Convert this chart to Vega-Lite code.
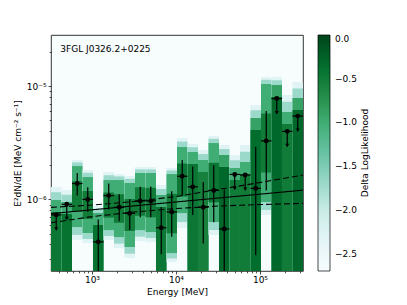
{
  "$schema": "https://vega.github.io/schema/vega-lite/v6.json",
  "autosize": "none",
  "width": 252,
  "height": 236,
  "padding": {"left": 51, "top": 35, "right": 104, "bottom": 34},
  "background": "#ffffff",
  "config": {
    "view": {"stroke": "#000", "strokeWidth": 0.8, "fill": "#f7fcfd"},
    "axis": {"domain": false, "grid": false, "labelFont": "DejaVu Sans", "labelFontSize": 9, "labelColor": "#000", "titleFont": "DejaVu Sans", "titleFontSize": 9, "titleFontWeight": "normal", "titleColor": "#000", "tickColor": "#000", "tickWidth": 0.7},
    "legend": {"labelFont": "DejaVu Sans", "labelFontSize": 9, "labelColor": "#000", "titleFont": "DejaVu Sans", "titleFontSize": 9, "titleFontWeight": "normal", "titleColor": "#000"}
  },
  "datasets": {
    "heat": [
      {"e1":325.6,"e2":434.0,"lo":1e-7,"hi":1.285e-6,"v":-2.3},{"e1":325.6,"e2":434.0,"lo":1e-7,"hi":1.156e-6,"v":-1.7},{"e1":325.6,"e2":434.0,"lo":1e-7,"hi":9.86e-7,"v":-1.0},{"e1":325.6,"e2":434.0,"lo":1e-7,"hi":7.73e-7,"v":-0.45},
      {"e1":434.0,"e2":578.8,"lo":1e-7,"hi":1.209e-6,"v":-2.3},{"e1":434.0,"e2":578.8,"lo":1e-7,"hi":1.096e-6,"v":-1.7},{"e1":434.0,"e2":578.8,"lo":1e-7,"hi":9.47e-7,"v":-1.0},{"e1":434.0,"e2":578.8,"lo":1e-7,"hi":7.42e-7,"v":-0.4},
      {"e1":578.8,"e2":771.8,"lo":4.38e-7,"hi":2.224e-6,"v":-2.3},{"e1":578.8,"e2":771.8,"lo":4.86e-7,"hi":2.118e-6,"v":-1.7},{"e1":578.8,"e2":771.8,"lo":5.70e-7,"hi":1.968e-6,"v":-1.0},{"e1":578.8,"e2":771.8,"lo":7.77e-7,"hi":1.444e-6,"v":-0.5},
      {"e1":771.8,"e2":1029.2,"lo":4.12e-7,"hi":1.815e-6,"v":-2.3},{"e1":771.8,"e2":1029.2,"lo":4.47e-7,"hi":1.714e-6,"v":-1.7},{"e1":771.8,"e2":1029.2,"lo":5.05e-7,"hi":1.574e-6,"v":-1.0},{"e1":771.8,"e2":1029.2,"lo":6.71e-7,"hi":1.184e-6,"v":-0.5},
      {"e1":1029.2,"e2":1372.5,"lo":1e-7,"hi":8.73e-7,"v":-2.3},{"e1":1029.2,"e2":1372.5,"lo":1e-7,"hi":8.25e-7,"v":-1.7},{"e1":1029.2,"e2":1372.5,"lo":1e-7,"hi":7.57e-7,"v":-1.0},{"e1":1029.2,"e2":1372.5,"lo":1e-7,"hi":5.94e-7,"v":-0.4},
      {"e1":1372.5,"e2":1830.2,"lo":4.38e-7,"hi":1.742e-6,"v":-2.3},{"e1":1372.5,"e2":1830.2,"lo":4.75e-7,"hi":1.633e-6,"v":-1.7},{"e1":1372.5,"e2":1830.2,"lo":5.36e-7,"hi":1.481e-6,"v":-1.0},{"e1":1372.5,"e2":1830.2,"lo":6.91e-7,"hi":1.149e-6,"v":-0.5},
      {"e1":1830.2,"e2":2440.6,"lo":3.72e-7,"hi":1.673e-6,"v":-2.3},{"e1":1830.2,"e2":2440.6,"lo":4.07e-7,"hi":1.594e-6,"v":-1.7},{"e1":1830.2,"e2":2440.6,"lo":4.65e-7,"hi":1.481e-6,"v":-1.0},{"e1":1830.2,"e2":2440.6,"lo":6.22e-7,"hi":1.109e-6,"v":-0.5},
      {"e1":2440.6,"e2":3254.6,"lo":3.04e-7,"hi":1.607e-6,"v":-2.3},{"e1":2440.6,"e2":3254.6,"lo":3.32e-7,"hi":1.518e-6,"v":-1.7},{"e1":2440.6,"e2":3254.6,"lo":3.80e-7,"hi":1.394e-6,"v":-1.0},{"e1":2440.6,"e2":3254.6,"lo":5.26e-7,"hi":1.007e-6,"v":-0.5},
      {"e1":3254.6,"e2":4340.1,"lo":4.29e-7,"hi":1.929e-6,"v":-2.3},{"e1":3254.6,"e2":4340.1,"lo":4.69e-7,"hi":1.837e-6,"v":-1.7},{"e1":3254.6,"e2":4340.1,"lo":5.36e-7,"hi":1.708e-6,"v":-1.0},{"e1":3254.6,"e2":4340.1,"lo":7.17e-7,"hi":1.278e-6,"v":-0.5},
      {"e1":4340.1,"e2":5787.6,"lo":4.20e-7,"hi":1.929e-6,"v":-2.3},{"e1":4340.1,"e2":5787.6,"lo":4.56e-7,"hi":1.837e-6,"v":-1.7},{"e1":4340.1,"e2":5787.6,"lo":5.15e-7,"hi":1.708e-6,"v":-1.0},{"e1":4340.1,"e2":5787.6,"lo":6.95e-7,"hi":1.265e-6,"v":-0.5},
      {"e1":5787.6,"e2":7717.9,"lo":1e-7,"hi":1.338e-6,"v":-2.3},{"e1":5787.6,"e2":7717.9,"lo":1e-7,"hi":1.234e-6,"v":-1.7},{"e1":5787.6,"e2":7717.9,"lo":1e-7,"hi":1.092e-6,"v":-1.0},{"e1":5787.6,"e2":7717.9,"lo":1e-7,"hi":8.56e-7,"v":-0.45},
      {"e1":7717.9,"e2":10292,"lo":2.80e-7,"hi":1.890e-6,"v":-2.3},{"e1":7717.9,"e2":10292,"lo":3.01e-7,"hi":1.800e-6,"v":-1.7},{"e1":7717.9,"e2":10292,"lo":3.36e-7,"hi":1.673e-6,"v":-1.0},{"e1":7717.9,"e2":10292,"lo":5.02e-7,"hi":1.120e-6,"v":-0.5},
      {"e1":10292,"e2":13725,"lo":5.58e-7,"hi":3.476e-6,"v":-2.3},{"e1":10292,"e2":13725,"lo":6.31e-7,"hi":3.231e-6,"v":-1.7},{"e1":10292,"e2":13725,"lo":7.57e-7,"hi":2.896e-6,"v":-1.0},{"e1":10292,"e2":13725,"lo":1.059e-6,"hi":2.071e-6,"v":-0.45},
      {"e1":13725,"e2":18302,"lo":1e-7,"hi":3.077e-6,"v":-2.3},{"e1":13725,"e2":18302,"lo":1e-7,"hi":2.884e-6,"v":-1.7},{"e1":13725,"e2":18302,"lo":1e-7,"hi":2.616e-6,"v":-1.0},{"e1":13725,"e2":18302,"lo":1e-7,"hi":2.050e-6,"v":-0.45},
      {"e1":18302,"e2":24406,"lo":1e-7,"hi":2.725e-6,"v":-2.3},{"e1":18302,"e2":24406,"lo":1e-7,"hi":2.512e-6,"v":-1.7},{"e1":18302,"e2":24406,"lo":1e-7,"hi":2.224e-6,"v":-1.0},{"e1":18302,"e2":24406,"lo":1e-7,"hi":1.742e-6,"v":-0.55},
      {"e1":24406,"e2":32546,"lo":4.84e-7,"hi":3.622e-6,"v":-2.3},{"e1":24406,"e2":32546,"lo":5.38e-7,"hi":3.421e-6,"v":-1.7},{"e1":24406,"e2":32546,"lo":6.31e-7,"hi":3.141e-6,"v":-1.0},{"e1":24406,"e2":32546,"lo":9.42e-7,"hi":2.103e-6,"v":-0.45},
      {"e1":32546,"e2":43401,"lo":1e-7,"hi":3.016e-6,"v":-2.3},{"e1":32546,"e2":43401,"lo":1e-7,"hi":2.781e-6,"v":-1.7},{"e1":32546,"e2":43401,"lo":1e-7,"hi":2.461e-6,"v":-0.9},{"e1":32546,"e2":43401,"lo":1e-7,"hi":1.929e-6,"v":-0.3},
      {"e1":43401,"e2":57876,"lo":1e-7,"hi":2.461e-6,"v":-2.3},{"e1":43401,"e2":57876,"lo":1e-7,"hi":2.214e-6,"v":-1.7},{"e1":43401,"e2":57876,"lo":1e-7,"hi":1.890e-6,"v":-1.0},{"e1":43401,"e2":57876,"lo":1e-7,"hi":1.481e-6,"v":-0.5},
      {"e1":57876,"e2":77179,"lo":1e-7,"hi":3.016e-6,"v":-2.3},{"e1":57876,"e2":77179,"lo":1e-7,"hi":2.627e-6,"v":-1.7},{"e1":57876,"e2":77179,"lo":1e-7,"hi":2.135e-6,"v":-1.0},{"e1":57876,"e2":77179,"lo":1e-7,"hi":1.673e-6,"v":-0.5},
      {"e1":77179,"e2":102920,"lo":1e-7,"hi":6.799e-6,"v":-2.3},{"e1":77179,"e2":102920,"lo":1e-7,"hi":6.115e-6,"v":-1.7},{"e1":77179,"e2":102920,"lo":1e-7,"hi":5.220e-6,"v":-0.9},{"e1":77179,"e2":102920,"lo":1e-7,"hi":4.090e-6,"v":-0.35},
      {"e1":102920,"e2":137246,"lo":7.27e-7,"hi":1.201e-5,"v":-2.3},{"e1":102920,"e2":137246,"lo":8.08e-7,"hi":1.134e-5,"v":-1.7},{"e1":102920,"e2":137246,"lo":9.47e-7,"hi":1.042e-5,"v":-1.0},{"e1":102920,"e2":137246,"lo":1.725e-6,"hi":5.720e-6,"v":-0.5},
      {"e1":137246,"e2":183021,"lo":1e-7,"hi":1.201e-5,"v":-2.3},{"e1":137246,"e2":183021,"lo":1e-7,"hi":1.125e-5,"v":-1.7},{"e1":137246,"e2":183021,"lo":1e-7,"hi":1.021e-5,"v":-0.9},{"e1":137246,"e2":183021,"lo":1e-7,"hi":8.00e-6,"v":-0.3},
      {"e1":183021,"e2":244062,"lo":1e-7,"hi":8.33e-6,"v":-2.3},{"e1":183021,"e2":244062,"lo":1e-7,"hi":7.256e-6,"v":-1.7},{"e1":183021,"e2":244062,"lo":1e-7,"hi":5.896e-6,"v":-1.0},{"e1":183021,"e2":244062,"lo":1e-7,"hi":4.620e-6,"v":-0.5},
      {"e1":244062,"e2":325462,"lo":1e-7,"hi":1.085e-5,"v":-2.3},{"e1":244062,"e2":325462,"lo":1e-7,"hi":9.526e-6,"v":-1.7},{"e1":244062,"e2":325462,"lo":1e-7,"hi":7.838e-6,"v":-0.9},{"e1":244062,"e2":325462,"lo":1e-7,"hi":6.141e-6,"v":-0.3}
    ],
    "model": [
      {"e":325.5,"f":7.49e-7,"s":"model"},{"e":325500,"f":1.206e-6,"s":"model"},
      {"e":325.5,"f":8.50e-7,"s":"upper"},{"e":1000,"f":8.91e-7,"s":"upper"},{"e":3162,"f":9.57e-7,"s":"upper"},{"e":10000,"f":1.059e-6,"s":"upper"},{"e":31623,"f":1.221e-6,"s":"upper"},{"e":100000,"f":1.408e-6,"s":"upper"},{"e":325500,"f":1.640e-6,"s":"upper"},
      {"e":325.5,"f":6.22e-7,"s":"lower"},{"e":1000,"f":7.05e-7,"s":"lower"},{"e":3162,"f":7.73e-7,"s":"lower"},{"e":10000,"f":8.30e-7,"s":"lower"},{"e":31623,"f":8.73e-7,"s":"lower"},{"e":100000,"f":9.00e-7,"s":"lower"},{"e":325500,"f":9.23e-7,"s":"lower"}
    ],
    "pts": [
      {"e":375.8,"elo":325.6,"ehi":434.0,"f":7.3e-7,"ya":7.3e-7,"yb":5.48e-7,"ul":true},
      {"e":501.2,"elo":434.0,"ehi":578.8,"f":9.05e-7,"ya":9.05e-7,"yb":6.79e-7,"ul":true},
      {"e":668.3,"elo":578.8,"ehi":771.8,"f":1.38e-6,"ya":1.08e-6,"yb":1.71e-6,"ul":false},
      {"e":891.3,"elo":771.8,"ehi":1029.2,"f":1.0e-6,"ya":7.75e-7,"yb":1.28e-6,"ul":false},
      {"e":1188.5,"elo":1029.2,"ehi":1372.5,"f":4.22e-7,"ya":1e-7,"yb":6.63e-7,"ul":false},
      {"e":1584.9,"elo":1372.5,"ehi":1830.2,"f":1.08e-6,"ya":8.16e-7,"yb":1.38e-6,"ul":false},
      {"e":2113.5,"elo":1830.2,"ehi":2440.6,"f":8.53e-7,"ya":6.4e-7,"yb":1.11e-6,"ul":false},
      {"e":2818.4,"elo":2440.6,"ehi":3254.6,"f":7.52e-7,"ya":5.36e-7,"yb":1.01e-6,"ul":false},
      {"e":3758.4,"elo":3254.6,"ehi":4340.1,"f":9.7e-7,"ya":6.94e-7,"yb":1.29e-6,"ul":false},
      {"e":5011.9,"elo":4340.1,"ehi":5787.6,"f":9.7e-7,"ya":6.94e-7,"yb":1.30e-6,"ul":false},
      {"e":6683.4,"elo":5787.6,"ehi":7717.9,"f":5.62e-7,"ya":3.28e-7,"yb":8.55e-7,"ul":false},
      {"e":8912.5,"elo":7717.9,"ehi":10292,"f":7.75e-7,"ya":4.68e-7,"yb":1.18e-6,"ul":false},
      {"e":11885,"elo":10292,"ehi":13725,"f":1.6e-6,"ya":1.08e-6,"yb":2.22e-6,"ul":false},
      {"e":15849,"elo":13725,"ehi":18302,"f":1.29e-6,"ya":7.3e-7,"yb":1.95e-6,"ul":false},
      {"e":21135,"elo":18302,"ehi":24406,"f":8.53e-7,"ya":4.09e-7,"yb":1.42e-6,"ul":false},
      {"e":28184,"elo":24406,"ehi":32546,"f":1.2e-6,"ya":6.3e-7,"yb":2.0e-6,"ul":false},
      {"e":37584,"elo":32546,"ehi":43401,"f":5.48e-7,"ya":1e-7,"yb":1.22e-6,"ul":false},
      {"e":50119,"elo":43401,"ehi":57876,"f":1.66e-6,"ya":1.66e-6,"yb":1.245e-6,"ul":true},
      {"e":66834,"elo":57876,"ehi":77179,"f":1.64e-6,"ya":1.64e-6,"yb":1.23e-6,"ul":true},
      {"e":89125,"elo":77179,"ehi":102920,"f":1.25e-6,"ya":3.22e-7,"yb":2.91e-6,"ul":false},
      {"e":118850,"elo":102920,"ehi":137246,"f":3.28e-6,"ya":1.2e-6,"yb":6.03e-6,"ul":false},
      {"e":158490,"elo":137246,"ehi":183021,"f":7.75e-6,"ya":7.75e-6,"yb":5.81e-6,"ul":true},
      {"e":211350,"elo":183021,"ehi":244062,"f":3.98e-6,"ya":3.98e-6,"yb":2.99e-6,"ul":true},
      {"e":281840,"elo":244062,"ehi":325462,"f":5.43e-6,"ya":5.43e-6,"yb":4.07e-6,"ul":true}
    ],
    "ann": [{"e":419.5,"f":2.10e-5,"t":"3FGL J0326.2+0225"}]
  },
  "resolve": {"axis": {"x": "independent", "y": "independent"}},
  "layer": [
    {
      "data": {"name": "heat"},
      "mark": {"type": "rect", "clip": true, "strokeWidth": 0},
      "encoding": {
        "x": {"field": "e1", "type": "quantitative", "scale": {"type": "log", "domain": [325.5, 325500], "nice": false},
              "axis": {"orient": "bottom", "values": [1000, 10000, 100000], "labelExpr": "datum.value == 1000 ? '10³' : datum.value == 10000 ? '10⁴' : '10⁵'", "tickSize": 3, "labelPadding": 1, "title": "Energy [MeV]", "titlePadding": 3, "labelFlush": false}},
        "x2": {"field": "e2"},
        "y": {"field": "lo", "type": "quantitative", "scale": {"type": "log", "domain": [2.335e-7, 2.818e-5], "nice": false},
              "axis": {"orient": "left", "values": [1e-6, 1e-5], "labelExpr": "datum.value == 1e-5 ? '10⁻⁵' : '10⁻⁶'", "tickSize": 3, "labelPadding": 2, "title": "E²dN/dE [MeV cm⁻² s⁻¹]", "titlePadding": 4, "labelFlush": false}},
        "y2": {"field": "hi"},
        "color": {"field": "v", "type": "quantitative",
                  "scale": {"domain": [-2.7, -2.3625, -2.025, -1.6875, -1.35, -1.0125, -0.675, -0.3375, 0], "range": ["#f7fcfd", "#e5f5f9", "#ccece6", "#99d8c9", "#66c2a4", "#41ae76", "#238b45", "#006d2c", "#00441b"], "interpolate": "rgb"},
                  "legend": {"title": "Delta LogLikelihood", "orient": "right", "offset": 15, "gradientLength": 236, "gradientThickness": 12, "gradientStrokeColor": "#000", "gradientStrokeWidth": 0.7, "values": [0, -0.5, -1, -1.5, -2, -2.5], "format": ".1f", "titleOrient": "right", "titleAnchor": "middle", "titlePadding": 4, "labelOffset": 5,
                             "encode": {"title": {"update": {"angle": {"value": 270}, "baseline": {"value": "top"}}}}}}
      }
    },
    {
      "data": {"name": "model"},
      "mark": {"type": "line", "color": "#000", "strokeWidth": 1.1, "clip": true},
      "encoding": {
        "x": {"field": "e", "type": "quantitative",
              "axis": {"orient": "bottom", "values": [400,500,600,700,800,900,2000,3000,4000,5000,6000,7000,8000,9000,20000,30000,40000,50000,60000,70000,80000,90000,200000,300000], "labels": false, "tickSize": 1.8, "title": null}},
        "y": {"field": "f", "type": "quantitative",
              "axis": {"orient": "left", "values": [3e-7,4e-7,5e-7,6e-7,7e-7,8e-7,9e-7,2e-6,3e-6,4e-6,5e-6,6e-6,7e-6,8e-6,9e-6,2e-5], "labels": false, "tickSize": 1.8, "title": null}},
        "strokeDash": {"field": "s", "type": "nominal", "scale": {"domain": ["model", "upper", "lower"], "range": [[1, 0], [6, 3], [6, 3]]}, "legend": null}
      }
    },
    {
      "data": {"name": "pts"},
      "mark": {"type": "rule", "color": "#000", "strokeWidth": 1.2, "clip": true},
      "encoding": {
        "x": {"field": "e", "type": "quantitative", "axis": null},
        "y": {"field": "ya", "type": "quantitative", "axis": null},
        "y2": {"field": "yb"}
      }
    },
    {
      "data": {"name": "pts"},
      "mark": {"type": "rule", "color": "#000", "strokeWidth": 1.2, "clip": true},
      "encoding": {
        "x": {"field": "elo", "type": "quantitative", "axis": null},
        "x2": {"field": "ehi"},
        "y": {"field": "f", "type": "quantitative", "axis": null}
      }
    },
    {
      "data": {"name": "pts"},
      "transform": [{"filter": "datum.ul"}],
      "mark": {"type": "point", "shape": "triangle-down", "filled": true, "color": "#000", "size": 16, "opacity": 1},
      "encoding": {
        "x": {"field": "e", "type": "quantitative", "axis": null},
        "y": {"field": "yb", "type": "quantitative", "axis": null}
      }
    },
    {
      "data": {"name": "pts"},
      "mark": {"type": "circle", "color": "#000", "size": 24, "opacity": 1},
      "encoding": {
        "x": {"field": "e", "type": "quantitative", "axis": null},
        "y": {"field": "f", "type": "quantitative", "axis": null}
      }
    },
    {
      "data": {"name": "ann"},
      "mark": {"type": "text", "align": "left", "baseline": "middle", "font": "DejaVu Sans", "fontSize": 9, "color": "#000"},
      "encoding": {
        "x": {"field": "e", "type": "quantitative", "axis": null},
        "y": {"field": "f", "type": "quantitative", "axis": null},
        "text": {"field": "t"}
      }
    }
  ]
}
